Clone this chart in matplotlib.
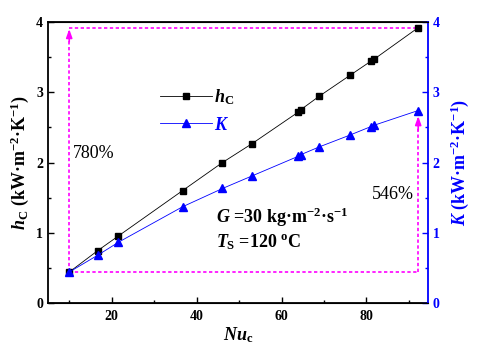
import numpy as np
import matplotlib
matplotlib.use("Agg")
import matplotlib.pyplot as plt
from matplotlib.ticker import MultipleLocator

# ---------------------------------------------------------------------------
# Data
# ---------------------------------------------------------------------------
nu_c = [10.0, 16.7, 21.6, 36.7, 46.1, 53.1, 64.0, 64.5, 68.8, 76.1, 81.0, 81.8, 92.2]
h_c = [0.44, 0.745, 0.955, 1.60, 2.00, 2.27, 2.72, 2.75, 2.94, 3.24, 3.44, 3.47, 3.92]
k_val = [0.44, 0.68, 0.865, 1.37, 1.63, 1.81, 2.09, 2.11, 2.22, 2.39, 2.51, 2.53, 2.74]

pct_hc = "780%"
pct_k = "546%"

BLUE = "#0000ff"
MAGENTA = "#ff00ff"

plt.rcParams["font.family"] = "Liberation Serif"
plt.rcParams["font.weight"] = "bold"
plt.rcParams["axes.labelweight"] = "bold"
plt.rcParams["mathtext.fontset"] = "custom"
plt.rcParams["mathtext.rm"] = "Liberation Serif:bold"
plt.rcParams["mathtext.bf"] = "Liberation Serif:bold"
plt.rcParams["mathtext.it"] = "Liberation Serif:italic:bold"

fig = plt.figure(figsize=(4.79, 3.55), dpi=100)
ax = fig.add_axes([0.1002, 0.1465, 0.7933, 0.7915])
ax2 = ax.twinx()

# series
l1, = ax.plot(nu_c, h_c, color="black", lw=0.6, marker="s", ms=5,
              label=r"$h_\mathrm{C}$", zorder=4)
l2, = ax2.plot(nu_c, k_val, color=BLUE, lw=0.6, marker="^", ms=5.5,
               label=r"$K$", zorder=4)

# magenta dashed guide box + arrows
x0, x1 = nu_c[0], nu_c[-1]
dash = dict(color=MAGENTA, lw=1.2, ls=(0, (2, 1.5)), zorder=3)
ax.plot([x0, x1], [h_c[0], h_c[0]], **dash)
ax.plot([x0, x1], [h_c[-1], h_c[-1]], **dash)
ax.plot([x0, x0], [h_c[0], h_c[-1] - 0.05], **dash)
ax.plot([x1, x1], [k_val[0], k_val[-1] - 0.1], **dash)
arrow = dict(arrowstyle="-|>,head_length=0.5,head_width=0.18",
             color=MAGENTA, lw=1.2, shrinkA=0, shrinkB=0)
ax.annotate("", xy=(x0, h_c[-1] - 0.02), xytext=(x0, h_c[-1] - 0.2),
            arrowprops=arrow, zorder=3)
ax.annotate("", xy=(x1, k_val[-1] - 0.08), xytext=(x1, k_val[-1] - 0.28),
            arrowprops=arrow, zorder=3)

ax.text(10.8, 2.07, pct_hc, fontsize=13, fontweight="normal")
ax.text(81.3, 1.48, pct_k, fontsize=13, fontweight="normal")

ax.text(44.5, 1.14, r"$G$ =30 kg·m$^{-2}$·s$^{-1}$", fontsize=13)
ax.text(44.5, 0.79, r"$T_\mathrm{S}$ =120 $^\mathrm{o}$C", fontsize=13)

# axes setup
ax.set_xlim(5, 94.5)
ax.set_ylim(0, 4)
ax2.set_ylim(0, 4)
ax.xaxis.set_major_locator(MultipleLocator(20))
ax.xaxis.set_minor_locator(MultipleLocator(10))
for a in (ax, ax2):
    a.yaxis.set_major_locator(MultipleLocator(1))
    a.yaxis.set_minor_locator(MultipleLocator(0.5))
    a.tick_params(which="both", direction="in", labelsize=10, width=1)
    a.tick_params(which="major", length=4)
    a.tick_params(which="minor", length=2.5)
ax.tick_params(axis="x", pad=5)
ax2.tick_params(which="both", colors=BLUE)
ax.spines["right"].set_visible(False)
ax2.spines["right"].set_color(BLUE)
ax2.spines["left"].set_visible(False)
for s in ax.spines.values():
    s.set_linewidth(1.3)
ax2.spines["right"].set_linewidth(1.3)

ax.set_xlabel(r"$Nu_\mathrm{c}$", fontsize=13, labelpad=2)
ax.set_ylabel(r"$h_\mathrm{C}$ (kW·m$^{-2}$·K$^{-1}$)", fontsize=13, labelpad=4)
ax2.set_ylabel(r"$K$ (kW·m$^{-2}$·K$^{-1}$)", fontsize=13, color=BLUE, labelpad=6)

leg = ax.legend(handles=[l1, l2], loc="upper left", frameon=False,
                bbox_to_anchor=(160 / 479, 1 - 87 / 355),
                bbox_transform=fig.transFigure, fontsize=13,
                handlelength=2.9, handletextpad=0.1, labelspacing=0.55,
                borderpad=0, borderaxespad=0)
leg.get_texts()[1].set_color(BLUE)

fig.savefig("out.png", dpi=100)
